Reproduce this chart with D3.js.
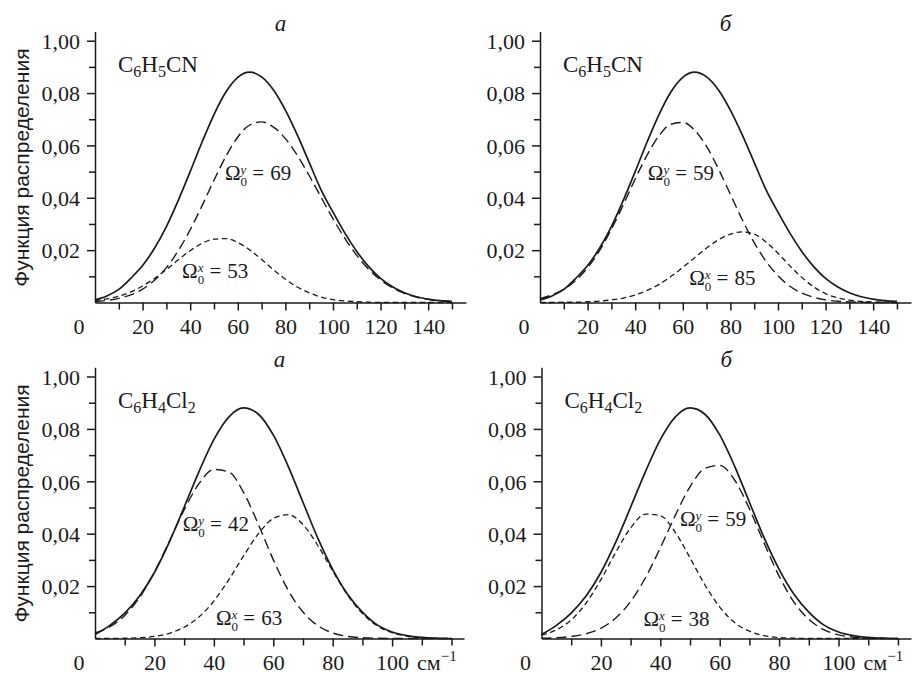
<!DOCTYPE html>
<html>
<head>
<meta charset="utf-8">
<script src="https://cdn.jsdelivr.net/npm/d3@7"></script>
<style>
body { margin: 0; background: #fff; }
</style>
</head>
<body>
<div id="chart-area"></div>
<script>
let width = 912,
height = 673;

// wavenumber grids, cm^-1
let gridTop = [0, 5, 10, 15, 20, 25, 30, 35, 40, 45, 50, 55, 60, 65, 70, 75, 80, 85, 90, 95, 100, 105, 110, 115, 120, 125, 130, 135, 140, 145, 150];
let gridBottom = [0, 5, 10, 15, 20, 25, 30, 35, 40, 45, 50, 55, 60, 65, 70, 75, 80, 85, 90, 95, 100, 105, 110, 115, 120];

// C6H5CN: total distribution (solid), same in a and б
let totalC6H5CN = [0.0010, 0.0025, 0.0050, 0.0092, 0.0141, 0.0207, 0.0290, 0.0390, 0.0500, 0.0613, 0.0718, 0.0804, 0.0860, 0.0880, 0.0862, 0.0812, 0.0735, 0.0640, 0.0535, 0.0430, 0.0345, 0.0265, 0.0195, 0.0137, 0.0092, 0.0060, 0.0037, 0.0022, 0.0013, 0.0007, 0.0004];
// a: Omega_0^y = 69 (long dash), Omega_0^x = 53 (short dash)
let yC6H5CN_a = [0.0004, 0.0008, 0.0016, 0.0029, 0.0051, 0.0085, 0.0133, 0.0198, 0.0278, 0.0370, 0.0467, 0.0558, 0.0632, 0.0678, 0.0690, 0.0670, 0.0626, 0.0562, 0.0485, 0.0402, 0.0320, 0.0245, 0.0180, 0.0127, 0.0086, 0.0056, 0.0035, 0.0021, 0.0012, 0.0007, 0.0004];
let xC6H5CN_a = [0.0007, 0.0014, 0.0024, 0.0040, 0.0063, 0.0092, 0.0126, 0.0163, 0.0198, 0.0226, 0.0242, 0.0244, 0.0229, 0.0201, 0.0164, 0.0125, 0.0089, 0.0059, 0.0037, 0.0021, 0.0011, 0.0006, 0.0003, 0.0001, 0, 0, 0, 0, 0, 0, 0];
// б: Omega_0^y = 59, Omega_0^x = 85
let yC6H5CN_b = [0.0015, 0.0029, 0.0050, 0.0084, 0.0133, 0.0198, 0.0280, 0.0373, 0.0472, 0.0563, 0.0637, 0.0681, 0.0688, 0.0658, 0.0596, 0.0510, 0.0413, 0.0316, 0.0229, 0.0157, 0.0102, 0.0062, 0.0036, 0.0020, 0.0010, 0.0005, 0.0002, 0.0001, 0, 0, 0];
let xC6H5CN_b = [0, 0, 0.0001, 0.0001, 0.0003, 0.0005, 0.0010, 0.0017, 0.0029, 0.0046, 0.0069, 0.0099, 0.0134, 0.0171, 0.0208, 0.0240, 0.0261, 0.0270, 0.0261, 0.0231, 0.0188, 0.0140, 0.0096, 0.0060, 0.0034, 0.0018, 0.0009, 0.0004, 0.0002, 0.0001, 0];

// C6H4Cl2: total distribution (solid), same in a and б
let totalC6H4Cl2 = [0.0015, 0.0050, 0.0097, 0.0162, 0.0252, 0.0368, 0.0501, 0.0637, 0.0759, 0.0845, 0.0880, 0.0856, 0.0777, 0.0658, 0.0520, 0.0383, 0.0264, 0.0169, 0.0101, 0.0052, 0.0025, 0.0011, 0.0004, 0.0001, 0];
// a: Omega_0^y = 42, Omega_0^x = 63
let yC6H4Cl2_a = [0.0021, 0.0045, 0.0088, 0.0157, 0.0253, 0.0370, 0.0491, 0.0591, 0.0645, 0.0636, 0.0558, 0.0435, 0.0301, 0.0185, 0.0101, 0.0049, 0.0021, 0.0008, 0.0003, 0.0001, 0, 0, 0, 0, 0];
let xC6H4Cl2_a = [0, 0, 0.0001, 0.0003, 0.0008, 0.0020, 0.0043, 0.0082, 0.0143, 0.0224, 0.0315, 0.0400, 0.0458, 0.0473, 0.0435, 0.0355, 0.0258, 0.0166, 0.0095, 0.0048, 0.0022, 0.0009, 0.0003, 0.0001, 0];
// б: Omega_0^y = 59, Omega_0^x = 38
let yC6H4Cl2_b = [0.0001, 0.0003, 0.0008, 0.0018, 0.0039, 0.0078, 0.0141, 0.0232, 0.0346, 0.0469, 0.0579, 0.0649, 0.0661, 0.0605, 0.0495, 0.0363, 0.0238, 0.0139, 0.0073, 0.0034, 0.0014, 0.0005, 0.0002, 0.0001, 0];
let xC6H4Cl2_b = [0.0013, 0.0033, 0.0071, 0.0135, 0.0225, 0.0329, 0.0422, 0.0475, 0.0469, 0.0406, 0.0308, 0.0205, 0.0120, 0.0061, 0.0028, 0.0011, 0.0004, 0.0001, 0, 0, 0, 0, 0, 0, 0];

// ticks
let yMajor = [0.02, 0.04, 0.06, 0.08, 0.10];
let yTickLabels = ["0,02", "0,04", "0,06", "0,08", "1,00"];
let yMinor = [0.01, 0.03, 0.05, 0.07, 0.09];
let xMajorTop = [20, 40, 60, 80, 100, 120, 140];
let xMinorTop = [10, 30, 50, 70, 90, 110, 130, 150];
let xMajorBottom = [20, 40, 60, 80, 100];
let xMinorBottom = [10, 30, 50, 70, 90, 110, 120];

let panels = [
	{title: "а", formula: [["C", ""], ["6", "sub"], ["H", ""], ["5", "sub"], ["CN", ""]],
	 grid: gridTop, total: totalC6H5CN, ySer: yC6H5CN_a, xSer: xC6H5CN_a,
	 omY: {v: "69", x: 54.6, y: 0.0468}, omX: {v: "53", x: 36.6, y: 0.0094},
	 left: 95, right: 466, xMax: 155.9, base: 302.5, top10: 40.7,
	 xMajor: xMajorTop, xMinor: xMinorTop, yLabel: true, unit: false},
	{title: "б", formula: [["C", ""], ["6", "sub"], ["H", ""], ["5", "sub"], ["CN", ""]],
	 grid: gridTop, total: totalC6H5CN, ySer: yC6H5CN_b, xSer: xC6H5CN_b,
	 omY: {v: "59", x: 45.3, y: 0.0468}, omX: {v: "85", x: 62.7, y: 0.0067},
	 left: 540, right: 911, xMax: 155.9, base: 302.5, top10: 40.7,
	 xMajor: xMajorTop, xMinor: xMinorTop, yLabel: false, unit: false},
	{title: "а", formula: [["C", ""], ["6", "sub"], ["H", ""], ["4", "sub"], ["Cl", ""], ["2", "sub"]],
	 grid: gridBottom, total: totalC6H4Cl2, ySer: yC6H4Cl2_a, xSer: xC6H4Cl2_a,
	 omY: {v: "42", x: 29.5, y: 0.0409}, omX: {v: "63", x: 40.7, y: 0.0053},
	 left: 95, right: 464, xMax: 124.2, base: 638.5, top10: 376.5,
	 xMajor: xMajorBottom, xMinor: xMinorBottom, yLabel: true, unit: true},
	{title: "б", formula: [["C", ""], ["6", "sub"], ["H", ""], ["4", "sub"], ["Cl", ""], ["2", "sub"]],
	 grid: gridBottom, total: totalC6H4Cl2, ySer: yC6H4Cl2_b, xSer: xC6H4Cl2_b,
	 omY: {v: "59", x: 46.6, y: 0.0428}, omX: {v: "38", x: 34.3, y: 0.0047},
	 left: 541.5, right: 911, xMax: 124.4, base: 638.5, top10: 376.5,
	 xMajor: xMajorBottom, xMinor: xMinorBottom, yLabel: false, unit: true}
];

let ink = "#1b1b1b";
let serif = "'Liberation Serif', 'Times New Roman', serif";

let svg = d3.select("#chart-area").append("svg")
	.attr("width", width)
	.attr("height", height)
	.attr("font-family", serif)
	.style("background", "#fff");

panels.forEach(p => drawPanel(p));

function drawPanel(p) {
	let yTop = p.base - 0.1035 * (p.base - p.top10) / 0.1;
	let x = d3.scaleLinear().domain([0, p.xMax]).range([p.left, p.right]);
	let y = d3.scaleLinear().domain([0, 0.1035]).range([p.base, yTop]);

	let g = svg.append("g");

	// curves
	let line = d3.line()
		.x((d, i) => x(p.grid[i]))
		.y(d => y(d))
		.curve(d3.curveMonotoneX);

	g.append("path").datum(p.xSer)
		.attr("d", line)
		.attr("fill", "none").attr("stroke", ink)
		.attr("stroke-width", 1.3).attr("stroke-dasharray", "5.5,3.5");
	g.append("path").datum(p.ySer)
		.attr("d", line)
		.attr("fill", "none").attr("stroke", ink)
		.attr("stroke-width", 1.4).attr("stroke-dasharray", "10,5");
	g.append("path").datum(p.total)
		.attr("d", line)
		.attr("fill", "none").attr("stroke", ink)
		.attr("stroke-width", 1.7);

	// y axis
	let yAxis = g.append("g")
		.attr("transform", "translate(" + p.left + ",0)")
		.call(d3.axisLeft(y).tickValues(yMajor).tickSize(8).tickSizeOuter(0)
			.tickFormat((d, i) => yTickLabels[i]));
	g.append("g")
		.attr("transform", "translate(" + p.left + ",0)")
		.call(d3.axisLeft(y).tickValues(yMinor).tickSize(6).tickSizeOuter(0).tickFormat(""))
		.select(".domain").remove();

	// x axis
	let xAxis = g.append("g")
		.attr("transform", "translate(0," + p.base + ")")
		.call(d3.axisBottom(x).tickValues(p.xMajor).tickSize(8).tickSizeOuter(0));
	g.append("g")
		.attr("transform", "translate(0," + p.base + ")")
		.call(d3.axisBottom(x).tickValues(p.xMinor).tickSize(7).tickSizeOuter(0).tickFormat(""))
		.select(".domain").remove();

	g.selectAll("g").attr("font-family", serif);
	g.selectAll(".domain, .tick line")
		.attr("stroke", ink).attr("stroke-width", 1.5);

	yAxis.selectAll("text")
		.attr("x", -15).attr("dy", "0.35em")
		.attr("fill", ink).style("font-family", serif).style("font-size", "22px");
	xAxis.selectAll("text")
		.attr("y", 31).attr("dy", 0)
		.attr("fill", ink).style("font-family", serif).style("font-size", "22px");

	// zero label sits left of the corner
	g.append("text")
		.attr("x", p.left - 16).attr("y", p.base + 31)
		.attr("text-anchor", "middle")
		.attr("fill", ink).style("font-family", serif).style("font-size", "22px")
		.text("0");

	if (p.unit) {
		let u = g.append("text")
			.attr("x", x(100) + 25).attr("y", p.base + 31)
			.attr("fill", ink).style("font-family", serif).style("font-size", "22px");
		u.append("tspan").text("см");
		u.append("tspan").attr("dy", -9).style("font-size", "15px").text("−1");
	}

	// panel letter
	g.append("text")
		.attr("x", (p.left + p.right) / 2).attr("y", p.top10 - 10)
		.attr("text-anchor", "middle")
		.attr("fill", ink).style("font-family", serif).style("font-size", "23px")
		.style("font-style", "italic")
		.text(p.title);

	// compound
	let f = g.append("text")
		.attr("x", p.left + 23).attr("y", y(0.1) + 31)
		.attr("fill", ink).style("font-family", serif).style("font-size", "23px");
	let shifted = false;
	p.formula.forEach(part => {
		let t = f.append("tspan").text(part[0]);
		if (part[1] == "sub") {
			t.style("font-size", "16px").attr("dy", shifted ? 0 : 5);
			shifted = true;
		} else {
			t.attr("dy", shifted ? -5 : 0);
			shifted = false;
		}
	});

	omega(g, x(p.omY.x), y(p.omY.y), "y", p.omY.v);
	omega(g, x(p.omX.x), y(p.omX.y), "x", p.omX.v);

	// y axis title
	if (p.yLabel) {
		g.append("text")
			.attr("transform", "translate(29," + ((p.base + p.top10) / 2 - 4) + ") rotate(-90)")
			.attr("text-anchor", "middle")
			.attr("fill", ink)
			.style("font-family", "'Liberation Sans', Arial, sans-serif")
			.style("font-size", "21px")
			.text("Функция распределения");
	}
}

function omega(g, px, py, sup, val) {
	let t = g.append("text")
		.attr("x", px).attr("y", py)
		.attr("fill", ink).style("font-family", serif).style("font-size", "21px");
	t.append("tspan").text("Ω");
	t.append("tspan").attr("dy", 6).style("font-size", "13px").text("0");
	t.append("tspan").attr("dx", -6.5).attr("dy", -12).style("font-size", "13px")
		.style("font-style", "italic").text(sup);
	t.append("tspan").attr("dx", 6).attr("dy", 6).text("=");
	t.append("tspan").attr("dx", 6).text(val);
}
</script>
</body>
</html>
